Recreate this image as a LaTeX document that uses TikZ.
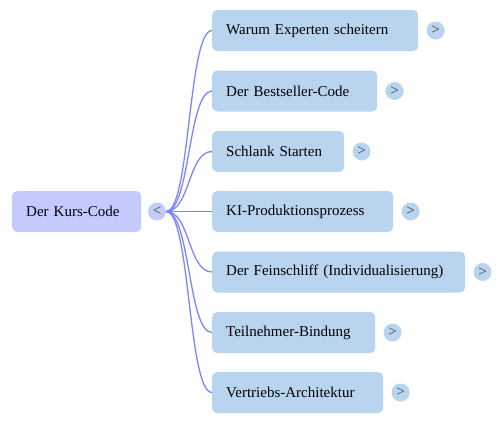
\documentclass[tikz,border=0pt]{standalone}
\usepackage{fontspec}
\setmainfont{Liberation Serif}
\definecolor{rootfill}{RGB}{197,202,253}
\definecolor{leaffill}{RGB}{185,212,238}
\definecolor{linkblue}{RGB}{122,134,255}
\usetikzlibrary{positioning}

\tikzset{
  rootbox/.style={fill=rootfill, rounded corners=5pt, minimum height=41pt,
    inner xsep=14pt, align=left, font=\fontsize{15}{18}\selectfont},
  leafbox/.style={fill=leaffill, rounded corners=5pt, minimum height=41pt,
    inner xsep=14pt, align=left, font=\fontsize{15}{18}\selectfont},
  knob/.style={circle, fill=leaffill, minimum size=18pt, inner sep=0pt,
    text=black!75, font=\fontsize{15}{15}\selectfont},
  link/.style={draw=linkblue, line width=1.3pt}
}

\begin{document}
\begin{tikzpicture}[x=1pt,y=-1pt]
  \useasboundingbox (0,0) rectangle (503,424);

  \node[rootbox, text width=101pt, anchor=west] (kurs) at (12,211.5) {Der Kurs-Code};
  \node[knob, fill=rootfill] (kursknob) at (157,211.5) {<};

  \foreach \i/\y/\w/\t in {1/30.5/178/Warum Experten scheitern,
                           2/91/137/Der Bestseller-Code,
                           3/151.5/104/Schlank Starten,
                           4/211.5/153/KI-Produktionsprozess,
                           5/272/225/Der Feinschliff (Individualisierung),
                           6/332.5/135/Teilnehmer-Bindung,
                           7/392.5/143/Vertriebs-Architektur}{
    \node[leafbox, text width=\w pt, anchor=west] (leaf\i) at (212,\y) {\t};
    \node[knob, right=8pt of leaf\i] (knob\i) {>};
    \draw[link] (kursknob.east) .. controls +(24,0) and +(-24,0) .. (leaf\i.west);
  }
\end{tikzpicture}
\end{document}
